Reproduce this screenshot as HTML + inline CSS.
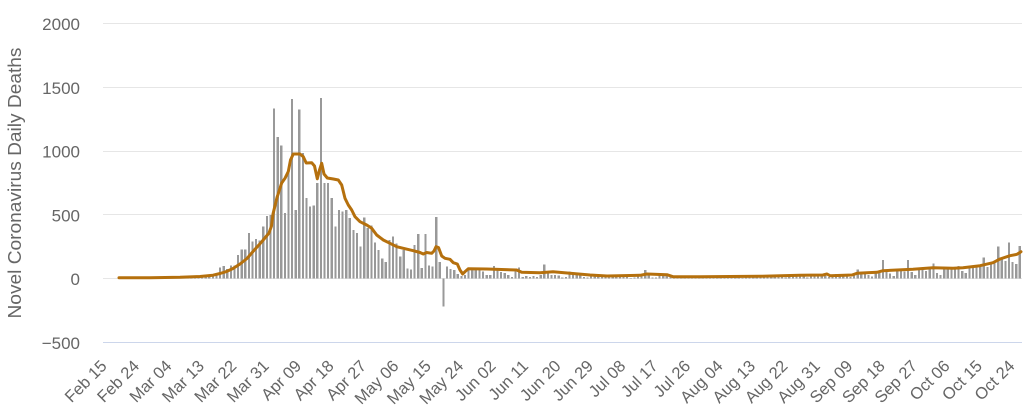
<!DOCTYPE html>
<html><head><meta charset="utf-8"><style>
html,body{margin:0;padding:0;background:#fff;}
body{width:1034px;height:418px;overflow:hidden;}
svg{display:block;font-family:"Liberation Sans",sans-serif;}
.yl{font-size:17px;fill:#666;text-anchor:end;}
.xl{font-size:16.5px;fill:#666;text-anchor:end;}
</style></head><body>
<svg width="1034" height="418" viewBox="0 0 1034 418" xmlns="http://www.w3.org/2000/svg">
<rect width="1034" height="418" fill="#fff"/>
<g stroke="#e6e6e6" stroke-width="1">
<line x1="103" x2="1022" y1="23.5" y2="23.5"/>
<line x1="103" x2="1022" y1="87.5" y2="87.5"/>
<line x1="103" x2="1022" y1="151.5" y2="151.5"/>
<line x1="103" x2="1022" y1="214.5" y2="214.5"/>
<line x1="103" x2="1022" y1="278.5" y2="278.5"/>
</g>
<line x1="103" x2="1022" y1="342.5" y2="342.5" stroke="#ccd6eb" stroke-width="1"/>
<g class="yl">
<text x="80" y="30">2000</text>
<text x="80" y="94">1500</text>
<text x="80" y="157.6">1000</text>
<text x="80" y="221.4">500</text>
<text x="80" y="285">0</text>
<text x="80" y="349">−500</text>
</g>
<text transform="translate(21 183) rotate(-90)" font-size="18.5" fill="#666" text-anchor="middle" textLength="271" lengthAdjust="spacingAndGlyphs">Novel Coronavirus Daily Deaths</text>
<g transform="translate(103 278.6) scale(3.6024 -0.1275)" fill="#999" shape-rendering="crispEdges">
<rect x="21.195" width=".61" height="4"/><rect x="22.195" width=".61" height="5"/><rect x="23.195" width=".61" height="7"/><rect x="24.195" width=".61" height="9"/><rect x="25.195" width=".61" height="11"/><rect x="26.195" width=".61" height="13"/><rect x="27.195" width=".61" height="16"/><rect x="28.195" width=".61" height="14"/><rect x="29.195" width=".61" height="18"/><rect x="30.195" width=".61" height="22"/><rect x="31.195" width=".61" height="32"/>
<rect x="32.195" width=".61" height="88"/><rect x="33.195" width=".61" height="98"/><rect x="34.195" width=".61" height="75"/><rect x="35.195" width=".61" height="102"/><rect x="36.195" width=".61" height="102"/><rect x="37.195" width=".61" height="185"/><rect x="38.195" width=".61" height="230"/><rect x="39.195" width=".61" height="230"/><rect x="40.195" width=".61" height="356"/><rect x="41.195" width=".61" height="290"/><rect x="42.195" width=".61" height="310"/><rect x="43.195" width=".61" height="300"/><rect x="44.195" width=".61" height="408"/><rect x="45.195" width=".61" height="492"/><rect x="46.195" width=".61" height="500"/><rect x="47.195" width=".61" height="1336"/><rect x="48.195" width=".61" height="1111"/><rect x="49.195" width=".61" height="1043"/><rect x="50.195" width=".61" height="513"/><rect x="51.195" width=".61" height="833"/><rect x="52.195" width=".61" height="1410"/><rect x="53.195" width=".61" height="539"/><rect x="54.195" width=".61" height="1326"/><rect x="55.195" width=".61" height="987"/><rect x="56.195" width=".61" height="631"/><rect x="57.195" width=".61" height="565"/><rect x="58.195" width=".61" height="573"/><rect x="59.195" width=".61" height="749"/><rect x="60.195" width=".61" height="1418"/><rect x="61.195" width=".61" height="749"/><rect x="62.195" width=".61" height="749"/><rect x="63.195" width=".61" height="631"/><rect x="64.195" width=".61" height="408"/><rect x="65.195" width=".61" height="539"/><rect x="66.195" width=".61" height="526"/><rect x="67.195" width=".61" height="539"/><rect x="68.195" width=".61" height="474"/><rect x="69.195" width=".61" height="382"/><rect x="70.195" width=".61" height="356"/><rect x="71.195" width=".61" height="250"/><rect x="72.195" width=".61" height="480"/><rect x="73.195" width=".61" height="395"/><rect x="74.195" width=".61" height="416"/><rect x="75.195" width=".61" height="285"/><rect x="76.195" width=".61" height="224"/><rect x="77.195" width=".61" height="159"/><rect x="78.195" width=".61" height="132"/><rect x="79.195" width=".61" height="303"/><rect x="80.195" width=".61" height="329"/><rect x="81.195" width=".61" height="277"/><rect x="82.195" width=".61" height="172"/><rect x="83.195" width=".61" height="224"/><rect x="84.195" width=".61" height="80"/><rect x="85.195" width=".61" height="70"/><rect x="86.195" width=".61" height="263"/><rect x="87.195" width=".61" height="348"/><rect x="88.195" width=".61" height="83"/><rect x="89.195" width=".61" height="351"/><rect x="90.195" width=".61" height="104"/><rect x="91.195" width=".61" height="96"/><rect x="92.195" width=".61" height="483"/><rect x="93.195" width=".61" height="131"/><rect x="94.195" y="-217" width=".61" height="217"/>
<rect x="95.195" width=".61" height="93"/><rect x="96.195" width=".61" height="75"/><rect x="97.195" width=".61" height="69"/><rect x="98.195" width=".61" height="35"/><rect x="99.195" width=".61" height="20"/><rect x="100.195" width=".61" height="27"/><rect x="101.195" width=".61" height="78"/><rect x="102.195" width=".61" height="69"/><rect x="103.195" width=".61" height="69"/><rect x="104.195" width=".61" height="69"/><rect x="105.195" width=".61" height="55"/><rect x="106.195" width=".61" height="27"/><rect x="107.195" width=".61" height="27"/><rect x="108.195" width=".61" height="98"/><rect x="109.195" width=".61" height="69"/><rect x="110.195" width=".61" height="50"/><rect x="111.195" width=".61" height="43"/><rect x="112.195" width=".61" height="27"/><rect x="113.195" width=".61" height="13"/><rect x="114.195" width=".61" height="55"/><rect x="115.195" width=".61" height="88"/><rect x="116.195" width=".61" height="13"/><rect x="117.195" width=".61" height="20"/><rect x="118.195" width=".61" height="13"/><rect x="119.195" width=".61" height="20"/><rect x="120.195" width=".61" height="13"/><rect x="121.195" width=".61" height="27"/><rect x="122.195" width=".61" height="112"/><rect x="123.195" width=".61" height="43"/><rect x="124.195" width=".61" height="28"/><rect x="125.195" width=".61" height="30"/><rect x="126.195" width=".61" height="25"/><rect x="127.195" width=".61" height="10"/><rect x="128.195" width=".61" height="12"/><rect x="129.195" width=".61" height="54"/><rect x="130.195" width=".61" height="30"/><rect x="131.195" width=".61" height="28"/><rect x="132.195" width=".61" height="26"/><rect x="133.195" width=".61" height="12"/><rect x="134.195" width=".61" height="8"/><rect x="135.195" width=".61" height="30"/><rect x="136.195" width=".61" height="26"/><rect x="137.195" width=".61" height="22"/><rect x="138.195" width=".61" height="20"/><rect x="139.195" width=".61" height="14"/><rect x="140.195" width=".61" height="8"/><rect x="141.195" width=".61" height="25"/><rect x="142.195" width=".61" height="30"/><rect x="143.195" width=".61" height="22"/><rect x="144.195" width=".61" height="18"/><rect x="145.195" width=".61" height="14"/><rect x="146.195" width=".61" height="6"/><rect x="147.195" width=".61" height="10"/><rect x="148.195" width=".61" height="28"/><rect x="149.195" width=".61" height="30"/><rect x="150.195" width=".61" height="67"/><rect x="151.195" width=".61" height="25"/><rect x="152.195" width=".61" height="10"/><rect x="153.195" width=".61" height="8"/><rect x="154.195" width=".61" height="32"/><rect x="155.195" width=".61" height="26"/><rect x="156.195" width=".61" height="20"/><rect x="157.195" width=".61" height="15"/><rect x="158.195" width=".61" height="8"/><rect x="159.195" width=".61" height="5"/><rect x="160.195" width=".61" height="18"/><rect x="161.195" width=".61" height="20"/><rect x="162.195" width=".61" height="17"/><rect x="163.195" width=".61" height="14"/><rect x="164.195" width=".61" height="10"/><rect x="165.195" width=".61" height="6"/><rect x="166.195" width=".61" height="16"/><rect x="167.195" width=".61" height="18"/><rect x="168.195" width=".61" height="20"/><rect x="169.195" width=".61" height="15"/><rect x="170.195" width=".61" height="12"/><rect x="171.195" width=".61" height="8"/><rect x="172.195" width=".61" height="17"/><rect x="173.195" width=".61" height="20"/><rect x="174.195" width=".61" height="18"/><rect x="175.195" width=".61" height="16"/><rect x="176.195" width=".61" height="12"/><rect x="177.195" width=".61" height="6"/><rect x="178.195" width=".61" height="18"/><rect x="179.195" width=".61" height="22"/><rect x="180.195" width=".61" height="19"/><rect x="181.195" width=".61" height="17"/><rect x="182.195" width=".61" height="14"/><rect x="183.195" width=".61" height="8"/><rect x="184.195" width=".61" height="20"/><rect x="185.195" width=".61" height="25"/><rect x="186.195" width=".61" height="22"/><rect x="187.195" width=".61" height="20"/><rect x="188.195" width=".61" height="15"/><rect x="189.195" width=".61" height="10"/><rect x="190.195" width=".61" height="26"/><rect x="191.195" width=".61" height="28"/><rect x="192.195" width=".61" height="25"/><rect x="193.195" width=".61" height="22"/><rect x="194.195" width=".61" height="18"/><rect x="195.195" width=".61" height="10"/><rect x="196.195" width=".61" height="30"/><rect x="197.195" width=".61" height="32"/><rect x="198.195" width=".61" height="27"/><rect x="199.195" width=".61" height="25"/><rect x="200.195" width=".61" height="20"/><rect x="201.195" width=".61" height="12"/><rect x="202.195" width=".61" height="30"/><rect x="203.195" width=".61" height="35"/><rect x="204.195" width=".61" height="28"/><rect x="205.195" width=".61" height="26"/><rect x="206.195" width=".61" height="22"/><rect x="207.195" width=".61" height="12"/><rect x="208.195" width=".61" height="30"/><rect x="209.195" width=".61" height="72"/><rect x="210.195" width=".61" height="40"/><rect x="211.195" width=".61" height="35"/><rect x="212.195" width=".61" height="28"/><rect x="213.195" width=".61" height="15"/><rect x="214.195" width=".61" height="50"/><rect x="215.195" width=".61" height="45"/><rect x="216.195" width=".61" height="146"/><rect x="217.195" width=".61" height="55"/><rect x="218.195" width=".61" height="40"/><rect x="219.195" width=".61" height="20"/><rect x="220.195" width=".61" height="60"/><rect x="221.195" width=".61" height="65"/><rect x="222.195" width=".61" height="55"/><rect x="223.195" width=".61" height="146"/><rect x="224.195" width=".61" height="50"/><rect x="225.195" width=".61" height="30"/><rect x="226.195" width=".61" height="75"/><rect x="227.195" width=".61" height="70"/><rect x="228.195" width=".61" height="60"/><rect x="229.195" width=".61" height="80"/><rect x="230.195" width=".61" height="119"/><rect x="231.195" width=".61" height="45"/><rect x="232.195" width=".61" height="30"/><rect x="233.195" width=".61" height="80"/><rect x="234.195" width=".61" height="85"/><rect x="235.195" width=".61" height="75"/><rect x="236.195" width=".61" height="78"/><rect x="237.195" width=".61" height="98"/><rect x="238.195" width=".61" height="60"/><rect x="239.195" width=".61" height="45"/><rect x="240.195" width=".61" height="85"/><rect x="241.195" width=".61" height="90"/><rect x="242.195" width=".61" height="100"/><rect x="243.195" width=".61" height="95"/><rect x="244.195" width=".61" height="167"/><rect x="245.195" width=".61" height="90"/><rect x="246.195" width=".61" height="120"/><rect x="247.195" width=".61" height="140"/><rect x="248.195" width=".61" height="250"/><rect x="249.195" width=".61" height="160"/><rect x="250.195" width=".61" height="140"/><rect x="251.195" width=".61" height="285"/><rect x="252.195" width=".61" height="132"/><rect x="253.195" width=".61" height="113"/><rect x="254.195" width=".61" height="256"/>
</g>
<polyline fill="none" stroke="#b5700d" stroke-width="3" stroke-linejoin="round" stroke-linecap="round" points="119,277.7 150,277.8 180,277.3 200,276.5 213,275.2 220,273.5 226,271.7 233,268.5 240,264 247,258.5 253,251.5 262,241.5 269,233 271.5,226 273,214 277,197.5 281.7,183 285,178.3 288.3,171.5 290.5,160 293.3,154 300,154 303.3,156.7 306.2,163 311.7,162.7 314.5,166 317.3,178.8 319.5,170 321.7,163.3 324,174 327.3,178 333.3,179 338.3,180 341.7,185 345,198.3 348.3,205 351.7,210 355,216.7 360,221.7 366.7,225 371.7,228.3 376.7,235 383.3,240 390,243.3 396.7,246.7 403.3,248.3 413.3,250.7 420,252.5 423.3,254 426.7,252.5 431.7,253.3 434,251 436,246.7 438.5,247.5 441.7,256 445,258.3 450,259.3 453.3,262.7 457.3,264 460,270 462.7,274 465,271.7 468.3,268.7 486.7,269 516.7,270 521.7,272.3 540,272.7 553,271.7 570,273.3 590,275 607,276 640,275.3 647,274 667,274.7 673,276.7 700,276.7 760,276.3 800,275.2 823,275 827,274 830,275.7 852,275 857,273.3 877,272.3 883,270.7 897,270 913,269.3 933,267.7 953,268.3 963,267.7 980,265.7 993,262.7 1000,259 1010,255.7 1017,254.3 1021,251.7"/>
<g class="xl">
<text transform="translate(107.8 367) rotate(-45)">Feb 15</text>
<text transform="translate(140.2 367) rotate(-45)">Feb 24</text>
<text transform="translate(172.6 367) rotate(-45)">Mar 04</text>
<text transform="translate(205.1 367) rotate(-45)">Mar 13</text>
<text transform="translate(237.5 367) rotate(-45)">Mar 22</text>
<text transform="translate(269.9 367) rotate(-45)">Mar 31</text>
<text transform="translate(302.3 367) rotate(-45)">Apr 09</text>
<text transform="translate(334.7 367) rotate(-45)">Apr 18</text>
<text transform="translate(367.2 367) rotate(-45)">Apr 27</text>
<text transform="translate(399.6 367) rotate(-45)">May 06</text>
<text transform="translate(432 367) rotate(-45)">May 15</text>
<text transform="translate(464.4 367) rotate(-45)">May 24</text>
<text transform="translate(496.8 367) rotate(-45)">Jun 02</text>
<text transform="translate(529.3 367) rotate(-45)">Jun 11</text>
<text transform="translate(561.7 367) rotate(-45)">Jun 20</text>
<text transform="translate(594.1 367) rotate(-45)">Jun 29</text>
<text transform="translate(626.5 367) rotate(-45)">Jul 08</text>
<text transform="translate(658.9 367) rotate(-45)">Jul 17</text>
<text transform="translate(691.4 367) rotate(-45)">Jul 26</text>
<text transform="translate(723.8 367) rotate(-45)">Aug 04</text>
<text transform="translate(756.2 367) rotate(-45)">Aug 13</text>
<text transform="translate(788.6 367) rotate(-45)">Aug 22</text>
<text transform="translate(821 367) rotate(-45)">Aug 31</text>
<text transform="translate(853.5 367) rotate(-45)">Sep 09</text>
<text transform="translate(885.9 367) rotate(-45)">Sep 18</text>
<text transform="translate(918.3 367) rotate(-45)">Sep 27</text>
<text transform="translate(950.7 367) rotate(-45)">Oct 06</text>
<text transform="translate(983.1 367) rotate(-45)">Oct 15</text>
<text transform="translate(1015.6 367) rotate(-45)">Oct 24</text>
</g>
</svg>
</body></html>
